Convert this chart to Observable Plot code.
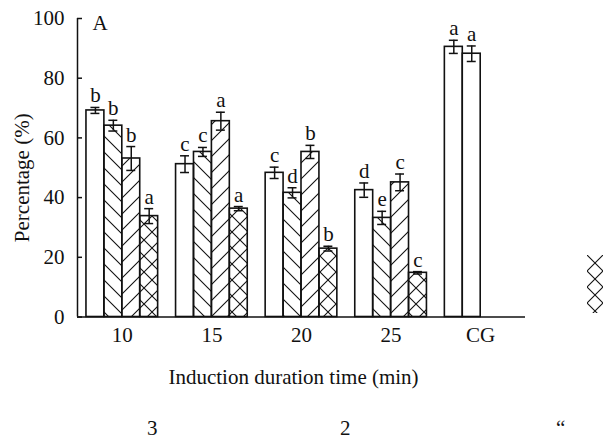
<!DOCTYPE html>
<html><head><meta charset="utf-8">
<script src="https://cdn.jsdelivr.net/npm/d3@7"></script>
<script src="https://cdn.jsdelivr.net/npm/@observablehq/plot@0.6"></script>
<style>
body{margin:0;background:#fff;font-family:"Liberation Serif","Times New Roman",serif;}
#wrap{position:relative;width:608px;height:441px;overflow:hidden;}
.foot{position:absolute;font-size:21px;color:#111;line-height:1;}
#legfrag{position:absolute;left:587px;top:255px;}
</style></head><body>
<svg width="0" height="0" style="position:absolute">
<defs>
<pattern id="back" patternUnits="userSpaceOnUse" width="16" height="16"><path d="M-4,-4L20,20M-4,12L4,20M12,-4L20,4" stroke="#111" stroke-width="1.1" fill="none"/></pattern>
<pattern id="fwd" patternUnits="userSpaceOnUse" width="16" height="16"><path d="M-4,20L20,-4M-4,4L4,-4M12,20L20,12" stroke="#111" stroke-width="1.1" fill="none"/></pattern>
<pattern id="cross" patternUnits="userSpaceOnUse" width="16" height="16"><path d="M-4,-4L20,20M-4,12L4,20M12,-4L20,4M-4,20L20,-4M-4,4L4,-4M12,20L20,12" stroke="#111" stroke-width="1.1" fill="none"/></pattern>
</defs></svg>
<div id="wrap"></div>
<script>
// ---- data ----
const groups = ["10", "15", "20", "25", "CG"];
const means10 = [69.2, 64.1, 53.1, 33.8];
const means15 = [51.2, 55.3, 65.6, 36.3];
const means20 = [48.3, 41.6, 55.3, 22.9];
const means25 = [42.5, 33.2, 45.1, 14.8];
const meansCG = [90.5, 88.2];
const errs10 = [1.0, 1.8, 4.0, 2.5];
const errs15 = [2.8, 1.5, 3.0, 0.7];
const errs20 = [1.9, 1.7, 2.2, 0.8];
const errs25 = [2.4, 2.2, 2.8, 0.4];
const errsCG = [2.2, 2.6];
const letters10 = ["b", "b", "b", "a"];
const letters15 = ["c", "c", "a", "a"];
const letters20 = ["c", "d", "b", "b"];
const letters25 = ["d", "e", "c", "c"];
const lettersCG = ["a", "a"];
const yTicks = [0, 20, 40, 60, 80, 100];
const yLabel = "Percentage (%)";
const xLabel = "Induction duration time (min)";
const panelLabel = "A";

// ---- build table ----
const allMeans = [means10, means15, means20, means25, meansCG];
const allErrs = [errs10, errs15, errs20, errs25, errsCG];
const allLetters = [letters10, letters15, letters20, letters25, lettersCG];
const seriesFill = ["white", "url(#back)", "url(#fwd)", "url(#cross)"];
const rows = [];
allMeans.forEach((arr, gi) => arr.forEach((m, si) => rows.push({
  gi, si, group: groups[gi], mean: m, err: allErrs[gi][si], letter: allLetters[gi][si],
  fill: groups[gi] === "CG" ? "white" : seriesFill[si]
})));
const bandW = 0.8, nSlots = 4, slotW = bandW / nSlots;
const left = d => d.gi - bandW / 2 + d.si * slotW;
const mid = d => left(d) + slotW / 2;
const xDomain = [-0.5, groups.length - 0.5];
const capHalf = slotW * 0.25;
const FS = 21;

const chart = Plot.plot({
  width: 608, height: 441,
  marginLeft: 77, marginRight: 83, marginTop: 18, marginBottom: 124.5,
  style: {fontFamily: "'Liberation Serif','Times New Roman',serif", fontSize: FS + "px", background: "white", color: "#111"},
  x: {domain: xDomain, axis: null},
  y: {domain: [0, 100], axis: null},
  color: {type: "identity"},
  marks: [
    Plot.rectY(rows, {x1: left, x2: d => left(d) + slotW, y1: 0, y2: "mean", fill: "fill", stroke: "#111", strokeWidth: 1.6}),
    Plot.ruleX(rows, {x: mid, y1: d => d.mean - d.err, y2: d => d.mean + d.err, stroke: "#111", strokeWidth: 1.5}),
    Plot.ruleY(rows, {y: d => d.mean + d.err, x1: d => mid(d) - capHalf, x2: d => mid(d) + capHalf, stroke: "#111", strokeWidth: 1.5}),
    Plot.ruleY(rows, {y: d => d.mean - d.err, x1: d => mid(d) - capHalf, x2: d => mid(d) + capHalf, stroke: "#111", strokeWidth: 1.5}),
    Plot.text(rows, {x: mid, y: d => d.mean + d.err, text: "letter", lineAnchor: "bottom", dy: -5, fontSize: FS, fill: "#111"}),
    Plot.ruleY([0], {stroke: "#111", strokeWidth: 1.5}),
    Plot.ruleX([xDomain[0]], {y1: 0, y2: 100, stroke: "#111", strokeWidth: 1.5}),
    Plot.axisY(yTicks, {tickSize: -5, tickPadding: 18, label: null, fontSize: FS, strokeWidth: 1.5}),
    Plot.axisX(groups.map((_, i) => i), {tickFormat: i => groups[i], tickSize: 0, tickPadding: 10, label: null, fontSize: FS}),
    Plot.text([panelLabel], {frameAnchor: "top-left", dx: 15, dy: -3, textAnchor: "start", lineAnchor: "top", fontSize: FS}),
    Plot.text([yLabel], {frameAnchor: "left", textAnchor: "middle", rotate: -90, dx: -55, dy: 10, fontSize: FS}),
    Plot.text([xLabel], {frameAnchor: "bottom", textAnchor: "middle", dx: -8, dy: 67, fontSize: FS})
  ]
});
const wrap = document.getElementById("wrap");
wrap.appendChild(chart);
// stray footer fragments of the original figure
[["3", 152], ["2", 345], ["\u201c", 561]].forEach(([t, cx]) => {
  const s = document.createElement("span");
  s.className = "foot"; s.textContent = t;
  s.style.left = (cx - 5) + "px"; s.style.top = "418px";
  wrap.appendChild(s);
});
// partial legend swatch visible at right edge
const frag = document.createElementNS("http://www.w3.org/2000/svg", "svg");
frag.setAttribute("id", "legfrag"); frag.setAttribute("width", 16); frag.setAttribute("height", 58);
const r = document.createElementNS("http://www.w3.org/2000/svg", "rect");
r.setAttribute("width", 16); r.setAttribute("height", 58); r.setAttribute("fill", "url(#cross)");
frag.appendChild(r); wrap.appendChild(frag);
</script>
</body></html>
